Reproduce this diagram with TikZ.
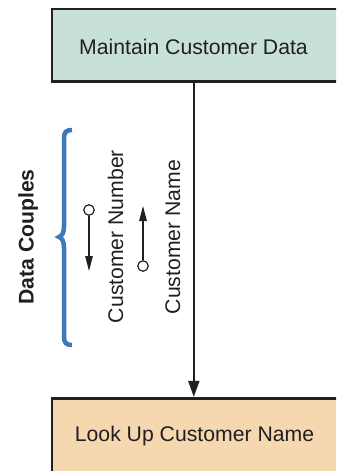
\documentclass[tikz,border=0pt]{standalone}
\usepackage{fontspec}
\setmainfont{Liberation Sans}
\usetikzlibrary{arrows.meta,calc}
\definecolor{boxline}{RGB}{35,31,32}
\definecolor{tealfill}{RGB}{199,225,215}
\definecolor{tanfill}{RGB}{245,215,176}
\definecolor{braceblue}{RGB}{62,120,185}
\tikzset{
  modbox/.style={draw=boxline, line width=2.8bp, rectangle, inner sep=0pt},
  lbl/.style={inner sep=0pt, font=\fontsize{21.2bp}{25bp}\selectfont, text=boxline},
  couplecirc/.style={draw=boxline, fill=white, circle, line width=1.2bp, minimum size=10.5bp, inner sep=0pt},
  couplearrow/.style={draw=boxline, line width=1.2bp, -{Triangle[length=15bp,width=7.5bp]}},
  mainarrow/.style={draw=boxline, line width=2bp, -{Triangle[length=16bp,width=11bp]}}
}
\begin{document}
\begin{tikzpicture}[x=1bp,y=-1bp]
\useasboundingbox (0,0) rectangle (336,471);
\clip (0,0) rectangle (336,471);
\fill[white] (0,0) rectangle (336,471);
% boxes
\node[modbox, fill=tealfill, minimum width=298bp, minimum height=72.7bp] (top) at (201,45.35) {};
\node[modbox, fill=tanfill, minimum width=298bp, minimum height=78bp] (bot) at (201,437.3) {};
\node[lbl, anchor=base] (toptext) at (193.5,55) {Maintain Customer Data};
\node[lbl, anchor=base] (bottext) at (194.5,441.7) {Look Up Customer Name};
% main connector
\coordinate (lx) at (193.8,0);
\draw[mainarrow] (top.south -| lx) -- (bot.north -| lx);
% data couples
\node[couplecirc] (cnc) at (89,210) {};
\coordinate (cnt) at (89,271);
\draw[couplearrow] (cnc) -- (cnt);
\node[couplecirc] (cmc) at (143,266) {};
\coordinate (cmt) at (143,206);
\draw[couplearrow] (cmc) -- (cmt);
\node[lbl, anchor=base, rotate=90] (cnlbl) at (123,236.5) {Customer Number};
\node[lbl, anchor=base, rotate=90] (cmlbl) at (180,237) {Customer Name};
% brace
\draw[braceblue, line width=4.5bp, line cap=butt]
  (72,130) .. controls (66.5,130) and (64,132) .. (64,138) -- (64,226)
  .. controls (64,233) and (62,236) .. (59,237)
  .. controls (62,238) and (64,241) .. (64,248) -- (64,337)
  .. controls (64,343) and (66.5,345) .. (72,345);
\node[lbl, anchor=base, rotate=90, font=\fontsize{21.2bp}{25bp}\selectfont\bfseries] (dclbl) at (33.5,237) {Data Couples};
\end{tikzpicture}
\end{document}
